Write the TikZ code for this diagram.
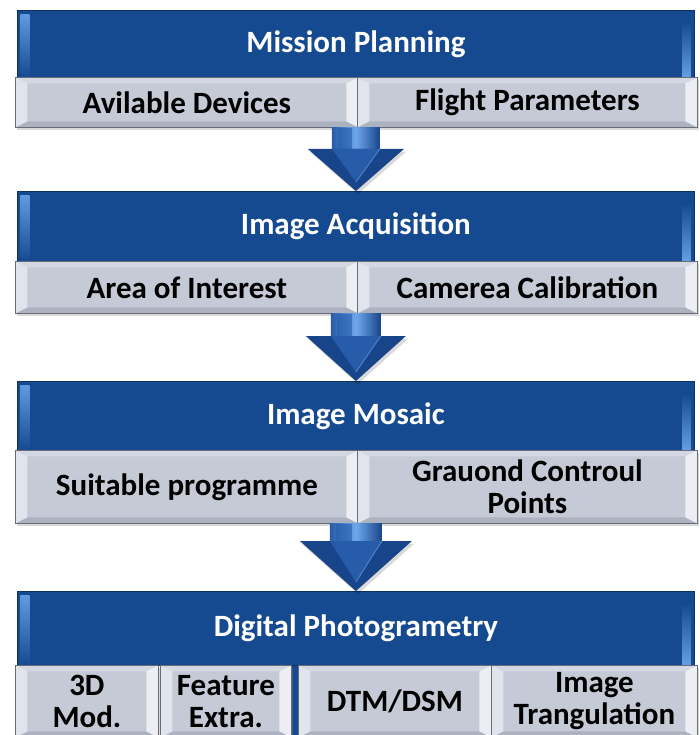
\documentclass[tikz,border=0pt]{standalone}
\usepackage{fontspec}
\setmainfont{Carlito}
\usetikzlibrary{calc,shadows}
\definecolor{hdr}{RGB}{22,74,144}
\definecolor{hdrdark}{RGB}{14,48,98}
\definecolor{hdrlight}{RGB}{100,160,228}
\definecolor{face}{RGB}{196,202,214}
\definecolor{ftop}{RGB}{212,216,226}
\definecolor{fleft}{RGB}{224,228,236}
\definecolor{fright}{RGB}{236,238,243}
\definecolor{fbot}{RGB}{172,178,192}
\definecolor{sbord}{RGB}{105,108,118}
\definecolor{arrdark}{RGB}{24,68,138}
\definecolor{arrmid}{RGB}{38,92,170}
\definecolor{arrlight}{RGB}{110,168,235}
\tikzset{
  hdrbox/.style={anchor=north west, inner sep=0pt, fill=hdr, draw=hdrdark, line width=0.8pt,
    text=white, font=\bfseries\fontsize{31}{33}\selectfont,
    path picture={
      \shade[top color=hdrlight, bottom color=hdr]
        ($(path picture bounding box.north west)+(3pt,-4pt)$) rectangle ($(path picture bounding box.south west)+(12pt,0pt)$);
      \shade[top color=hdr, bottom color=hdrlight]
        ($(path picture bounding box.north east)+(-12pt,-12pt)$) rectangle ($(path picture bounding box.south east)+(-4pt,0pt)$);
    }},
  subbox/.style={anchor=north west, inner sep=0pt, fill=face, draw=sbord, line width=0.8pt,
    align=center, font=\bfseries\fontsize{31}{32}\selectfont,
    drop shadow={shadow xshift=1.5pt, shadow yshift=-2.5pt, opacity=0.3},
    path picture={
      \coordinate (pnw) at (path picture bounding box.north west);
      \coordinate (pne) at (path picture bounding box.north east);
      \coordinate (psw) at (path picture bounding box.south west);
      \coordinate (pse) at (path picture bounding box.south east);
      \fill[ftop] (pnw) -- (pne) -- ($(pne)+(-12pt,-6pt)$) -- ($(pnw)+(12pt,-6pt)$) -- cycle;
      \fill[fbot] (psw) -- (pse) -- ($(pse)+(-12pt,6pt)$) -- ($(psw)+(12pt,6pt)$) -- cycle;
      \fill[fleft] (pnw) -- ($(pnw)+(12pt,-6pt)$) -- ($(psw)+(12pt,6pt)$) -- (psw) -- cycle;
      \fill[fright] (pne) -- ($(pne)+(-12pt,-6pt)$) -- ($(pse)+(-12pt,6pt)$) -- (pse) -- cycle;
    }},
}
% #1 start, #2 tip, #3 shaft half width, #4 head half width, #5 head length
\newcommand\flowarrow[5]{%
  \shade[left color=arrmid, right color=arrdark, middle color=arrlight]
    ($(#1)+(-#3,0)$) rectangle ($(#2)+(#3,-#5+2)$);
  \fill[arrmid, opacity=0.6] ($(#1)+(-#3+6,0)$) rectangle ($(#2)+(-4,-#5+2)$);
  \fill[black, opacity=0.15] ($(#2)+(-#4+2,-#5+3)$) -- ($(#2)+(#4+2,-#5+3)$) -- ($(#2)+(2,3)$) -- cycle;
  \fill[arrdark] ($(#2)+(-#4,-#5)$) -- ($(#2)+(#4,-#5)$) -- (#2) -- cycle;
  \fill[arrmid] ($(#2)+(-#3,-#5)$) -- ($(#2)+(#3,-#5)$) -- ($(#2)+(0,-9)$) -- cycle;
  \draw[arrlight!70!arrdark, line width=0.8pt] ($(#2)+(#3,-#5)$) -- ($(#2)+(0,-9)$);
}
\begin{document}
\begin{tikzpicture}[x=1pt,y=-1pt]
\useasboundingbox (0,0) rectangle (699,735);
\clip (0,0) rectangle (699,735);
% Block 1
\node[hdrbox, minimum width=677pt, minimum height=67pt] (h1) at (17,10) {Mission Planning};
\node[subbox, minimum width=343pt, minimum height=50pt] (s1a) at (15,77) {Avilable Devices};
\node[subbox, minimum width=340pt, minimum height=50pt] (s1b) at (357,77) {Flight Parameters};
% Block 2
\node[hdrbox, minimum width=677pt, minimum height=70pt] (h2) at (17,191) {Image Acquisition};
\node[subbox, minimum width=343pt, minimum height=52pt] (s2a) at (15,261) {Area of Interest};
\node[subbox, minimum width=340pt, minimum height=52pt] (s2b) at (357,261) {Camerea Calibration};
% Block 3
\node[hdrbox, minimum width=677pt, minimum height=69pt] (h3) at (17,381) {Image Mosaic};
\node[subbox, minimum width=343pt, minimum height=73pt] (s3a) at (15,450) {Suitable programme};
\node[subbox, minimum width=340pt, minimum height=73pt] (s3b) at (357,450) {Grauond Controul\\Points};
% Block 4
\node[hdrbox, minimum width=677pt, minimum height=74pt] (h4) at (17,591) {Digital Photogrametry};
\fill[hdr] (h4.south west) ++(272,0) rectangle ++(10,80);
\node[subbox, minimum width=143pt, minimum height=72pt] (s4a) at (15,665) {3D\\Mod.};
\node[subbox, minimum width=131pt, minimum height=72pt] (s4b) at (160,665) {Feature\\Extra.};
\node[subbox, minimum width=193pt, minimum height=72pt] (s4c) at (298,665) {DTM/DSM};
\node[subbox, minimum width=206pt, minimum height=72pt] (s4d) at (491,665) {Image\\Trangulation};
% Arrows
\coordinate (a1s) at (h2.north |- s1a.south);
\coordinate (a2s) at (h3.north |- s2a.south);
\coordinate (a3s) at (h4.north |- s3a.south);
\flowarrow{a1s}{h2.north}{24}{48}{42}
\flowarrow{a2s}{h3.north}{25}{50}{45}
\flowarrow{a3s}{h4.north}{26}{56}{50}
\end{tikzpicture}
\end{document}
